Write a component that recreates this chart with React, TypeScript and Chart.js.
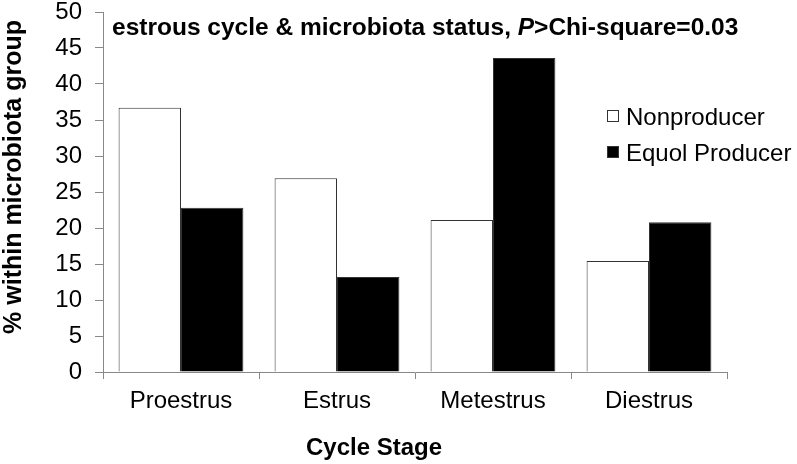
import React, { useEffect, useRef } from "react";
import { Chart, registerables } from "chart.js";

Chart.register(...registerables);

const categories = ["Proestrus", "Estrus", "Metestrus", "Diestrus"];
const seriesNames = ["Nonproducer", "Equol Producer"];
const nonproducer = [36.7, 26.9, 21.1, 15.4];
const equolProducer = [22.8, 13.2, 43.6, 20.8];
const yTicks = [0, 5, 10, 15, 20, 25, 30, 35, 40, 45, 50];
const titleParts = ["estrous cycle & microbiota status, ", "P", ">Chi-square=0.03"];
const xTitle = "Cycle Stage";
const yTitle = "% within microbiota group";

const FONT = "'Liberation Sans', Arial, sans-serif";

const textPlugin = {
  id: "textPlugin",
  afterDraw(chart: any) {
    const ctx = chart.ctx as CanvasRenderingContext2D;
    ctx.save();
    ctx.fillStyle = "#000";
    ctx.textBaseline = "alphabetic";
    ctx.textAlign = "left";
    // title
    let x = 112;
    const y = 35;
    ctx.font = `bold 24.5px ${FONT}`;
    ctx.fillText(titleParts[0], x, y);
    x += ctx.measureText(titleParts[0]).width;
    ctx.font = `italic bold 24.5px ${FONT}`;
    ctx.fillText(titleParts[1], x, y);
    x += ctx.measureText(titleParts[1]).width;
    ctx.font = `bold 24.5px ${FONT}`;
    ctx.fillText(titleParts[2], x, y);

    // x title
    ctx.textAlign = "center";
    ctx.font = `bold 24px ${FONT}`;
    ctx.fillText(xTitle, 374, 455);

    // y title
    ctx.save();
    ctx.translate(21, 177);
    ctx.rotate(-Math.PI / 2);
    ctx.font = `bold 25px ${FONT}`;
    ctx.fillText(yTitle, 0, 0);
    ctx.restore();

    // legend
    ctx.textAlign = "left";
    ctx.font = `24px ${FONT}`;
    const ys = [125, 161];
    const fills = ["#ffffff", "#000000"];
    for (let i = 0; i < seriesNames.length; i++) {
      ctx.fillStyle = fills[i];
      ctx.fillRect(607, ys[i] - 15, 12, 12);
      ctx.strokeStyle = "#333";
      ctx.lineWidth = 1;
      ctx.strokeRect(607.5, ys[i] - 14.5, 11, 11);
      ctx.fillStyle = "#000";
      ctx.fillText(seriesNames[i], 626, ys[i]);
    }
    ctx.restore();
  },
};

export default function App() {
  const ref = useRef<HTMLCanvasElement>(null);
  useEffect(() => {
    document.body.style.margin = "0";
    const chart = new Chart(ref.current!, {
      type: "bar",
      data: {
        labels: categories,
        datasets: [
          {
            label: seriesNames[0],
            data: nonproducer,
            backgroundColor: "#ffffff",
            borderColor: "#333333",
            borderWidth: 1,
            categoryPercentage: 0.8,
            barPercentage: 1,
          },
          {
            label: seriesNames[1],
            data: equolProducer,
            backgroundColor: "#000000",
            borderColor: "#333333",
            borderWidth: 1,
            categoryPercentage: 0.8,
            barPercentage: 1,
          },
        ],
      },
      options: {
        responsive: false,
        animation: false,
        layout: { padding: { top: 12, right: 70, left: 0, bottom: 0 } },
        plugins: {
          legend: { display: false },
          title: { display: false },
          tooltip: { enabled: false },
        },
        scales: {
          x: {
            grid: {
              display: true,
              drawOnChartArea: false,
              drawTicks: true,
              tickLength: 7,
              color: "#888888",
              offset: true,
            },
            border: { display: true, color: "#888888", width: 1 },
            ticks: {
              color: "#000",
              font: { family: FONT, size: 24 },
              padding: 8,
            },
            afterFit(scale: any) {
              scale.height = 92;
              scale.paddingLeft = 0;
              scale.paddingRight = 0;
            },
          },
          y: {
            min: 0,
            max: 50,
            afterBuildTicks(scale: any) {
              scale.ticks = yTicks.map((v) => ({ value: v }));
            },
            grid: {
              display: true,
              drawOnChartArea: false,
              drawTicks: true,
              tickLength: 8,
              color: "#888888",
            },
            border: { display: true, color: "#888888", width: 1 },
            ticks: {
              color: "#000",
              font: { family: FONT, size: 24 },
              padding: 13,
            },
            afterFit(scale: any) {
              scale.width = 103;
              scale.paddingTop = 0;
              scale.paddingBottom = 0;
            },
          },
        },
      },
      plugins: [textPlugin],
    });
    return () => chart.destroy();
  }, []);
  return (
    <div style={{ width: 797, height: 464 }}>
      <canvas ref={ref} width={797} height={464} />
    </div>
  );
}
